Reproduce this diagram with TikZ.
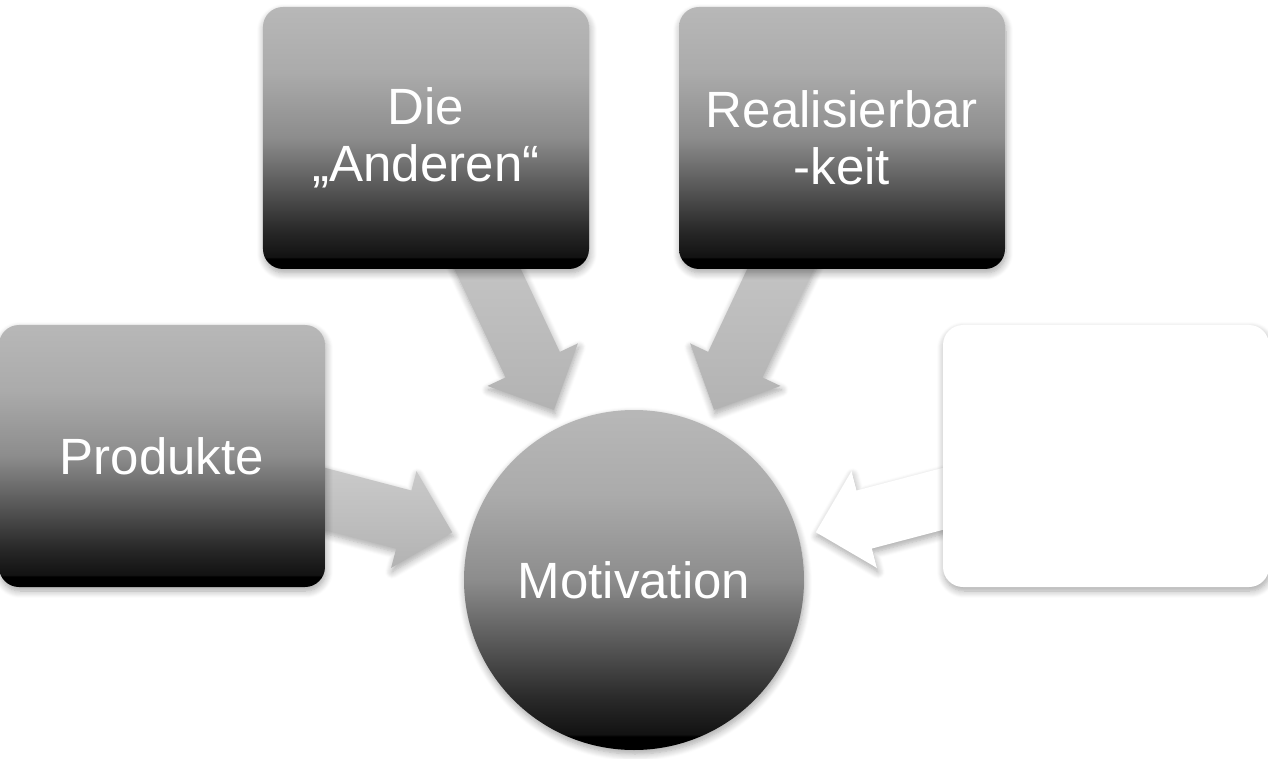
\documentclass[tikz,border=0pt]{standalone}
\usepackage{fontspec}
\setmainfont{Liberation Sans}
\usetikzlibrary{calc, shadows.blur, backgrounds}

\pgfdeclareverticalshading{darkfade}{100bp}{color(0bp)=(black); color(27bp)=(black); color(27.3bp)=(black!93); color(32.5bp)=(black!84); color(40bp)=(black!67); color(50bp)=(black!45); color(62.5bp)=(black!33); color(75bp)=(black!28); color(100bp)=(black!28)}

% block arrow from one node towards another
\newcommand{\flowarrow}[3]{%
  \path ($(#2)!188pt!(#1)$) coordinate (#1-tip)
        ($(#2)!238pt!(#1)$) coordinate (#1-neck);
  \path[#3] ($(#1)!30pt!90:(#2)$) -- ($(#1-neck)!30pt!90:(#1-tip)$)
    -- ($(#1-neck)!50pt!90:(#1-tip)$) -- (#1-tip)
    -- ($(#1-neck)!50pt!-90:(#1-tip)$) -- ($(#1-neck)!30pt!-90:(#1-tip)$)
    -- ($(#1)!30pt!-90:(#2)$) -- cycle;
}

\begin{document}
\begin{tikzpicture}[
  x=1pt, y=1pt,
  soft/.style={blur shadow={shadow xshift=1pt, shadow yshift=-4pt, shadow blur radius=7pt, shadow blur steps=8, shadow opacity=35}},
  box/.style={rectangle, rounded corners=20pt, minimum width=326pt, minimum height=262pt, inner sep=0pt, align=center, text=white, font=\fontsize{51}{57}\selectfont, soft},
  darkbox/.style={box, shading=darkfade},
  blankbox/.style={box, fill=white},
  core/.style={circle, minimum size=340pt, inner sep=0pt, text=white, font=\fontsize{51}{57}\selectfont, shading=darkfade, soft},
  flow/.style={top color=black!17, bottom color=black!30, soft},
  blankflow/.style={fill=white, soft}
]
\useasboundingbox (-634,-178) rectangle (634,580);

% Core Node
\node[core] (motivation) at (0,0) {Motivation};

% Surrounding Boxes
\node[darkbox] (produkte) at (-472,124) {Produkte};
\node[darkbox] (anderen) at (-208,442) {Die\\„Anderen“};
\node[darkbox] (realisierbar) at (208,442) {Realisierbar\\-keit};
\node[blankbox] (leer) at (472,124) {};

% Arrows
\begin{scope}[on background layer]
  \flowarrow{produkte}{motivation}{flow}
  \flowarrow{anderen}{motivation}{flow}
  \flowarrow{realisierbar}{motivation}{flow}
  \flowarrow{leer}{motivation}{blankflow}
\end{scope}

\end{tikzpicture}
\end{document}
